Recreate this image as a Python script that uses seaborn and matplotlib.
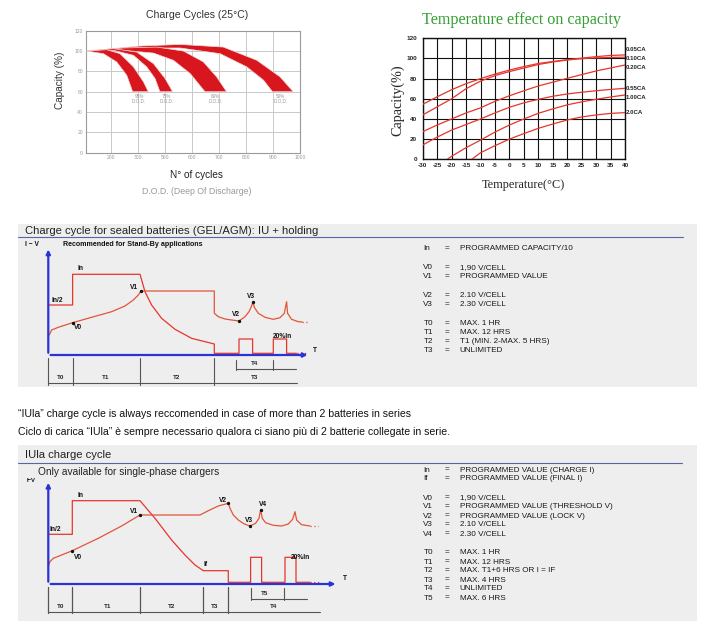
import numpy as np
import pandas as pd
import matplotlib
matplotlib.use('Agg')
import matplotlib.pyplot as plt
from matplotlib.patches import Rectangle
import seaborn as sns

sns.set_style('white')
plt.rcParams['font.family'] = ['Liberation Sans', 'DejaVu Sans']

# ---------------- data: charge cycles (25°C) ----------------
cycle_tick_labels = ['200', '300', '500', '600', '700', '800', '900', '1000']
capacity_ticks = [0, 20, 40, 60, 80, 100, 120]
dod_values = ['95%', '75%', '60%', '50%']
dod_label_x = [2.04, 3.06, 4.88, 7.28]
# band edges; x counted in gridline steps (1 = first labelled gridline)
b95_up_x = [0.10, 0.84, 1.33, 1.83, 2.20, 2.38]
b95_up_y = [100, 101.3, 97.4, 84.4, 69.7, 60]
b95_lo_x = [0.10, 0.72, 1.21, 1.58, 1.80]
b95_lo_y = [100, 97.4, 89.2, 76.2, 60]
b75_up_x = [0.10, 1.09, 1.95, 2.57, 3.00, 3.28]
b75_up_y = [100, 102.3, 99.0, 87.6, 73.0, 60]
b75_lo_x = [0.10, 1.09, 1.83, 2.32, 2.63, 2.81]
b75_lo_y = [100, 100.7, 95.8, 84.4, 73.0, 60]
b60_up_x = [0.10, 1.46, 2.69, 3.68, 4.42, 4.91, 5.28]
b60_up_y = [100, 103.0, 103.9, 100.0, 89.3, 74.6, 60]
b60_lo_x = [0.10, 1.46, 2.57, 3.31, 3.93, 4.48]
b60_lo_y = [100, 100.7, 98.0, 90.9, 77.9, 60]
b50_up_x = [0.10, 2.07, 3.56, 5.16, 6.40, 7.26, 7.75]
b50_up_y = [100, 104.9, 106.5, 103.9, 90.9, 74.6, 60]
b50_lo_x = [0.10, 2.07, 3.56, 5.04, 6.03, 6.65, 6.98]
b50_lo_y = [100, 103.0, 103.0, 97.4, 84.4, 71.3, 60]

# ---------------- data: temperature effect ----------------
temp_ticks = [-30, -25, -20, -15, -10, -5, 0, 5, 10, 15, 20, 25, 30, 35, 40]
rate_labels = ['0.05CA', '0.10CA', '0.20CA', '0.55CA', '1.00CA', '2.0CA']
rate_label_y = [109, 100, 91, 70.4, 61.5, 46.3]
t_full = [-30, -25, -20, -15, -10, -5, 0, 5, 10, 15, 20, 25, 30, 35, 40]
cap_005 = [54.5, 62, 69, 75, 80, 84.5, 88.5, 92, 95, 97, 98.8, 100.3, 101.8, 103, 103.5]
cap_010 = [44, 52, 60, 70, 77.5, 83, 87, 90.5, 94, 96.5, 98.5, 99.8, 100.6, 101, 101.3]
cap_020 = [27.4, 34, 40, 46, 51, 57.5, 63, 68, 72.7, 76.5, 80.3, 84, 87.6, 90.6, 93.5]
cap_055 = [14.2, 22, 29, 34.5, 40, 46, 51.6, 56, 59.5, 62.5, 64.8, 66.5, 68, 69.3, 70.4]
t_100 = [-21.5, -20, -15, -10, -5, 0, 5, 10, 15, 20, 25, 30, 35, 40]
cap_100 = [0, 3, 11.5, 19, 27, 34, 40, 45.6, 50, 54, 57, 59.5, 61.8, 63.8]
t_200 = [-13, -10, -5, 0, 5, 10, 15, 20, 25, 30, 35, 40]
cap_200 = [0, 6.5, 13.5, 20, 25.5, 30.7, 35, 39, 42, 44, 45.5, 46.3]

# ---------------- data: IU + holding diagram (time, level) ----------------
cur3_t = [0, 24.3, 24.3, 91.7, 96.7, 103.3, 113.3, 126.7, 143.3, 166, 166, 190.7, 190.7,
          204.3, 204.3, 225, 225, 238.3, 238.3, 248.3]
cur3_v = [50, 50, 80.7, 80.7, 63.3, 50, 36.7, 25.7, 16.7, 11, 1.7, 1.7, 16, 16, 1.7, 1.7,
          16, 16, 1.7, 1.7]
volt3_t = [1, 3.3, 10, 24.3, 43.3, 63.3, 76.7, 85, 90, 92.7, 166, 166, 170, 176.7, 183.3,
           190.7, 196.7, 200.7, 203.3, 204.7, 206, 210, 216.7, 225, 231.7, 236, 238.3, 239.3,
           243.3, 250, 254]
volt3_v = [20, 25, 27.7, 32.3, 37.7, 43.3, 49, 55, 60, 64, 64, 41.7, 38.3, 36, 35, 34, 38.3,
           43.3, 49, 53.3, 47.7, 41.7, 37.7, 35.7, 37.3, 41.7, 53.3, 41.7, 35.7, 33.3, 33]
dots3_t = [24.3, 92.7, 190.7, 204.7]
dots3_v = [32.3, 64, 34, 53.3]
phase3_edges = [0, 24.3, 91.7, 166]
phase3_names = ['T0', 'T1', 'T2', 'T3']
phase3_mid = [12.7, 57.7, 128.3, 206]

# ---------------- data: IUIa diagram ----------------
cur4_t = [0, 24, 24, 91.7, 106.7, 123.3, 136.7, 146.7, 155, 180, 180, 202.3, 202.3, 213.3,
          213.3, 236.7, 236.7, 247.7, 247.7, 261.7]
cur4_v = [49.7, 49.7, 83.3, 83.3, 65.7, 44, 29, 19, 13.3, 13.3, 1.7, 1.7, 26.7, 26.7, 1.7,
          1.7, 26.7, 26.7, 1.7, 1.7]
volt4_t = [0, 1.7, 5, 13.3, 24, 50, 73.3, 91.7, 151.7, 160, 170, 180, 181.7, 185, 190, 196,
           201.7, 207.3, 210.7, 212.3, 214, 217.3, 225, 233.3, 240, 244.3, 246.7, 248.3,
           253.3, 261.7]
volt4_v = [18, 22.3, 25.7, 29, 33.3, 45.7, 58, 69, 69, 73.3, 78, 80.7, 75.7, 69, 64, 60, 58,
           60.7, 65.7, 74, 65.7, 61.3, 58.7, 58, 60, 64.7, 72.3, 64, 59.3, 58]
dots4_t = [24, 91.7, 180, 201.7, 212.3]
dots4_v = [33.3, 69, 80.7, 58, 74]
phase4_edges = [0, 23.3, 91.7, 154.3, 180]
phase4_names = ['T0', 'T1', 'T2', 'T3', 'T4']
phase4_mid = [12.3, 59.3, 123.3, 166.7, 225]

box3_keys = ['In', 'V0', 'V1', 'V2', 'V3', 'T0', 'T1', 'T2', 'T3']
box3_vals = ['PROGRAMMED CAPACITY/10', '1,90 V/CELL', 'PROGRAMMED VALUE', '2.10 V/CELL',
             '2.30 V/CELL', 'MAX. 1 HR', 'MAX. 12 HRS', 'T1 (MIN. 2-MAX. 5 HRS)', 'UNLIMITED']
box3_rows = [248.5, 267.5, 276.5, 295.5, 304.5, 323.5, 332.5, 341.5, 350.5]
box4_keys = ['In', 'If', 'V0', 'V1', 'V2', 'V3', 'V4', 'T0', 'T1', 'T2', 'T3', 'T4', 'T5']
box4_vals = ['PROGRAMMED VALUE (CHARGE I)', 'PROGRAMMED VALUE (FINAL I)', '1,90 V/CELL',
             'PROGRAMMED VALUE (THRESHOLD V)', 'PROGRAMMED VALUE (LOCK V)', '2.10 V/CELL',
             '2.30 V/CELL', 'MAX. 1 HR', 'MAX. 12 HRS', 'MAX. T1+6 HRS OR I = IF',
             'MAX. 4 HRS', 'UNLIMITED', 'MAX. 6 HRS']
box4_rows = [470, 479, 498, 507, 516, 525, 534, 553, 562, 571, 580, 589, 598]

RED = '#d7161d'
LINE_RED = '#e5362c'
VOLT_RED = '#e2553a'
BLUE = '#2b33d6'
GREY_BG = '#eeeeee'
W, H = 705, 627

fig = plt.figure(figsize=(7.05, 6.27), dpi=100)


def px_axes(x0, y0, x1, y1):
    return fig.add_axes([x0 / W, 1 - y1 / H, (x1 - x0) / W, (y1 - y0) / H])


# background layer in pixel units
bg = fig.add_axes([0, 0, 1, 1])
bg.set_xlim(0, W)
bg.set_ylim(H, 0)
bg.axis('off')
bg.add_patch(Rectangle((18, 224), 678.7, 163, color=GREY_BG, lw=0))
bg.add_patch(Rectangle((18, 445), 678.7, 176, color=GREY_BG, lw=0))
bg.plot([18, 683], [236.7, 236.7], color='#5b63a6', lw=0.8)
bg.plot([18, 682], [462.7, 462.7], color='#5b63a6', lw=0.8)

# --- 1. Charge cycles ---
ax1 = px_axes(85.7, 30.7, 300, 152.7)
bands = [(b50_up_x, b50_up_y, b50_lo_x, b50_lo_y),
         (b60_up_x, b60_up_y, b60_lo_x, b60_lo_y),
         (b75_up_x, b75_up_y, b75_lo_x, b75_lo_y),
         (b95_up_x, b95_up_y, b95_lo_x, b95_lo_y)]
for ux, uy, lx, ly in bands:
    ax1.fill(ux + lx[::-1], uy + ly[::-1], color=RED, ec='#f4d6d6', lw=0.5, zorder=3)
for x, lab in zip(dod_label_x, dod_values):
    ax1.text(x, 55, lab, fontsize=3.3, color='#999', ha='center', va='center')
    ax1.text(x, 50, 'D.O.D.', fontsize=3.3, color='#999', ha='center', va='center')
ax1.set_xlim(0.06, 8)
ax1.set_ylim(0, 120)
ax1.set_xticks(np.arange(1, len(cycle_tick_labels) + 1))
ax1.set_xticklabels(cycle_tick_labels)
ax1.set_yticks(capacity_ticks)
ax1.grid(True, color='#c9c9c9', lw=0.7)
for s in ax1.spines.values():
    s.set_color('#9a9a9a')
    s.set_linewidth(0.8)
ax1.tick_params(length=0, labelsize=3.6, labelcolor='#9a9a9a', pad=2)
bg.text(196.7, 15, 'Charge Cycles (25°C)', fontsize=7.6, color='#333', ha='center', va='center')
bg.text(60, 80.7, 'Capacity (%)', fontsize=7.2, color='#333', ha='center', va='center', rotation=90)
bg.text(196.7, 175, 'N° of cycles', fontsize=7.2, color='#222', ha='center', va='center')
bg.text(196.7, 191.7, 'D.O.D. (Deep Of Discharge)', fontsize=6.3, color='#999', ha='center', va='center')

# --- 2. Temperature effect on capacity ---
ax2 = px_axes(422.7, 38.3, 625, 159.3)
series = [(t_full, cap_005), (t_full, cap_010), (t_full, cap_020), (t_full, cap_055),
          (t_100, cap_100), (t_200, cap_200)]
df_temp = pd.concat([pd.DataFrame({'temp': t, 'cap': c, 'rate': r})
                     for (t, c), r in zip(series, rate_labels)])
sns.lineplot(data=df_temp, x='temp', y='cap', hue='rate', palette=[LINE_RED] * 6,
             estimator=None, sort=False, legend=False, lw=0.9, ax=ax2, zorder=3)
ax2.set_xlim(-30, 40)
ax2.set_ylim(0, 120)
ax2.set_xticks(temp_ticks)
ax2.set_xticklabels([str(t) for t in temp_ticks])
ax2.set_yticks(capacity_ticks)
ax2.grid(True, color='#111', lw=0.8)
for s in ax2.spines.values():
    s.set_color('#111')
    s.set_linewidth(1.0)
ax2.set_xlabel('')
ax2.set_ylabel('')
ax2.tick_params(axis='x', length=0, pad=2.5)
ax2.tick_params(axis='y', length=0, pad=4)
for lab in ax2.get_xticklabels() + ax2.get_yticklabels():
    lab.set_fontweight('bold')
    lab.set_fontsize(4.6)
for y, lab in zip(rate_label_y, rate_labels):
    ax2.text(40.4, y, lab, fontsize=4.4, weight='bold', ha='left', va='center', clip_on=False)
bg.text(521.7, 20, 'Temperature effect on capacity', fontsize=11.6, color='#34a030',
        family='Liberation Serif', ha='center', va='center')
bg.text(398, 100, 'Capacity(%)', fontsize=10.3, family='Liberation Serif', ha='center',
        va='center', rotation=90)
bg.text(523, 185, 'Temperature(°C)', fontsize=8.8, family='Liberation Serif', ha='center',
        va='center')


# --- helpers for the charge diagrams ---
def draw_axes_arrows(ax, x_end, y_end):
    ax.annotate('', xy=(x_end, 0), xytext=(-0.5, 0),
                arrowprops=dict(arrowstyle='-|>', color=BLUE, lw=1.6, mutation_scale=6))
    ax.annotate('', xy=(0, y_end), xytext=(0, -0.5),
                arrowprops=dict(arrowstyle='-|>', color=BLUE, lw=1.6, mutation_scale=6))


def lbl(ax, x, y, s, size=4.8, **kw):
    ax.text(x, y, s, fontsize=size, weight='bold', color='#111', ha='left', va='center', **kw)


def key_rows(keys, vals, rows):
    for k, v, y in zip(keys, vals, rows):
        bg.text(423.3, y, k, fontsize=5.9, color='#1a1a1a', ha='left', va='center')
        bg.text(444.5, y, '=', fontsize=5.9, color='#1a1a1a', ha='left', va='center')
        bg.text(459.5, y, v, fontsize=5.9, color='#1a1a1a', ha='left', va='center')


# --- 3. IU + holding ---
bg.text(25, 231.3, 'Charge cycle for sealed batteries (GEL/AGM): IU + holding',
        fontsize=8.1, color='#222', ha='left', va='center')
ax3 = px_axes(20, 240, 360, 388)
ax3.set_facecolor('none')
ax3.set_xlim(-28.3, 311.7)
ax3.set_ylim(-33, 115)
ax3.axis('off')
ax3.plot(cur3_t, cur3_v, color=LINE_RED, lw=0.9)
ax3.plot([248.3, 258], [1.7, 1.7], color=LINE_RED, lw=0.9, ls=(0, (1, 2)))
ax3.plot(volt3_t, volt3_v, color=VOLT_RED, lw=0.9)
ax3.plot([254, 261], [33, 33], color=VOLT_RED, lw=0.9, ls=(0, (1, 2)))
ax3.plot(dots3_t, dots3_v, 'o', ms=1.4, color='#111')
draw_axes_arrows(ax3, 262, 108.3)
for e in phase3_edges:
    ax3.plot([e, e], [-3.3, -30], color='#555', lw=0.8)
ax3.plot([0, 248.3], [-27.7, -27.7], color='#555', lw=0.8)
for e in [187.7, 225]:
    ax3.plot([e, e], [-5, -15], color='#555', lw=0.8)
ax3.plot([187.7, 247.3], [-14.3, -14.3], color='#555', lw=0.8)
for m, n in zip(phase3_mid, phase3_names):
    ax3.text(m, -22.3, n, fontsize=4.5, weight='bold', ha='center', va='center')
ax3.text(206, -8.3, 'T4', fontsize=4.5, weight='bold', ha='center', va='center')
lbl(ax3, 29, 86.7, 'In')
lbl(ax3, 2.7, 55, 'In/2')
lbl(ax3, 81.7, 67.3, 'V1')
lbl(ax3, 26, 27.7, 'V0')
lbl(ax3, 199, 59, 'V3')
lbl(ax3, 183.3, 40, 'V2')
lbl(ax3, 224.3, 19, '20%In')
lbl(ax3, 264.3, 4.3, 'T')
lbl(ax3, -23.3, 110, 'I − V', clip_on=False)
lbl(ax3, 15, 110, 'Recommended for Stand-By applications', size=5.1)
key_rows(box3_keys, box3_vals, box3_rows)

# --- middle notes ---
bg.text(18, 414, '“IUla” charge cycle is always reccomended in case of more than 2 batteries in series',
        fontsize=7.6, color='#111', ha='left', va='center')
bg.text(18, 432, 'Ciclo di carica “IUla” è sempre necessario qualora ci siano più di 2 batterie collegate in serie.',
        fontsize=7.6, color='#111', ha='left', va='center')

# --- 4. IUIa ---
bg.text(25, 455, 'IUla charge cycle', fontsize=8.1, color='#222', ha='left', va='center')
bg.text(38.3, 472.3, 'Only available for single-phase chargers', fontsize=7.3,
        color='#222', ha='left', va='center')
ax4 = px_axes(20, 466, 360, 620)
ax4.set_facecolor('none')
ax4.set_xlim(-28.3, 311.7)
ax4.set_ylim(-36, 118)
ax4.axis('off')
ax4.plot(cur4_t, cur4_v, color=LINE_RED, lw=0.9)
ax4.plot([261.7, 271], [1.7, 1.7], color=LINE_RED, lw=0.9, ls=(0, (1, 2)))
ax4.plot(volt4_t, volt4_v, color=VOLT_RED, lw=0.9)
ax4.plot([261.7, 270], [58, 58], color=VOLT_RED, lw=0.9, ls=(0, (1, 2)))
ax4.plot(dots4_t, dots4_v, 'o', ms=1.4, color='#111')
draw_axes_arrows(ax4, 290, 104)
for e in phase4_edges:
    ax4.plot([e, e], [-2.7, -29.3], color='#555', lw=0.9)
ax4.plot([0, 271.7], [-28.3, -28.3], color='#555', lw=0.8)
for e in [202.3, 236]:
    ax4.plot([e, e], [-4.3, -16], color='#555', lw=0.8)
ax4.plot([202.3, 258.3], [-15.3, -15.3], color='#555', lw=0.8)
for m, n in zip(phase4_mid, phase4_names):
    ax4.text(m, -22.7, n, fontsize=4.5, weight='bold', ha='center', va='center')
ax4.text(216.7, -9.3, 'T5', fontsize=4.5, weight='bold', ha='center', va='center')
lbl(ax4, 29.3, 88.3, 'In')
lbl(ax4, 1.7, 54.7, 'In/2')
lbl(ax4, 81.7, 72.3, 'V1')
lbl(ax4, 26, 26.7, 'V0')
lbl(ax4, 170.7, 83.3, 'V2')
lbl(ax4, 211, 79, 'V4')
lbl(ax4, 196.7, 63, 'V3')
lbl(ax4, 155, 19.7, 'If')
lbl(ax4, 242.7, 26.3, '20%In')
lbl(ax4, 295, 5.7, 'T')
lbl(ax4, -21.7, 104, 'I−V', size=4.2)
key_rows(box4_keys, box4_vals, box4_rows)

fig.savefig('out.png', dpi=100)
